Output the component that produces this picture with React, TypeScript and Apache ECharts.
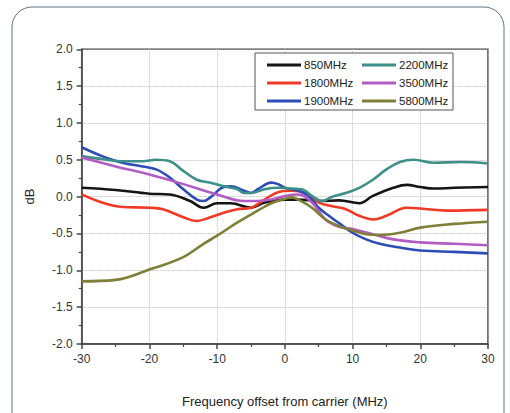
import React, { useEffect, useRef } from "react";
import * as echarts from "echarts";

const seriesNames = ["850MHz", "1800MHz", "1900MHz", "2200MHz", "3500MHz", "5800MHz"];
const seriesColors = ["#151515", "#f03a26", "#2c4db5", "#3d8f87", "#b25cc4", "#7f7f38"];

const x850 = [-30, -25, -20, -17, -14, -12, -10, -8, -5, -3, 0, 2, 5, 8, 11, 13, 16, 18, 20, 22, 25, 30];
const y850 = [0.12, 0.09, 0.04, 0.03, -0.06, -0.15, -0.09, -0.09, -0.15, -0.08, -0.04, -0.04, -0.06, -0.05, -0.09, 0.01, 0.12, 0.16, 0.13, 0.11, 0.12, 0.13];

const x1800 = [-30, -27, -24, -20, -18, -15, -13, -11, -9, -7, -5, -3, -1, 1, 3, 5, 7, 9, 11, 13, 15, 18, 20, 24, 30];
const y1800 = [0.03, -0.08, -0.14, -0.15, -0.17, -0.28, -0.33, -0.28, -0.22, -0.17, -0.15, -0.04, 0.06, 0.08, 0.05, -0.08, -0.13, -0.17, -0.26, -0.31, -0.26, -0.15, -0.16, -0.19, -0.18];

const x1900 = [-30, -27, -24, -21, -19, -17, -15, -13, -12, -11, -9, -8, -6, -5, -4, -2, -1, 0, 2, 3.5, 5, 6.5, 8, 10, 12, 14, 17, 20, 25, 30];
const y1900 = [0.67, 0.55, 0.46, 0.41, 0.37, 0.26, 0.1, -0.04, -0.06, -0.01, 0.13, 0.14, 0.08, 0.05, 0.1, 0.19, 0.17, 0.12, 0.08, 0.01, -0.15, -0.26, -0.36, -0.49, -0.58, -0.64, -0.69, -0.73, -0.75, -0.77];

const x2200 = [-30, -27, -24, -21, -19, -17, -15, -13, -11, -9, -7, -6, -5, -3, -1, 1, 2.5, 4, 5.5, 7, 9, 11, 13, 15, 17, 19, 22, 26, 30];
const y2200 = [0.55, 0.51, 0.48, 0.48, 0.5, 0.48, 0.35, 0.23, 0.19, 0.14, 0.1, 0.05, 0.05, 0.1, 0.12, 0.11, 0.1, 0.01, -0.06, 0.0, 0.05, 0.12, 0.23, 0.37, 0.47, 0.5, 0.46, 0.47, 0.45];

const x3500 = [-30, -25, -20, -15, -10, -6, -4, -2, 0, 2, 4, 6, 8, 10, 13, 16, 20, 25, 30];
const y3500 = [0.53, 0.41, 0.3, 0.17, 0.03, -0.06, -0.06, -0.04, 0.01, 0.03, -0.08, -0.31, -0.41, -0.44, -0.51, -0.58, -0.62, -0.64, -0.66];

const x5800 = [-30, -25, -20, -15, -12, -10, -7, -4, -2, 0, 1, 2, 4, 6, 8, 10, 12, 14, 17, 20, 25, 30];
const y5800 = [-1.15, -1.13, -0.99, -0.82, -0.64, -0.53, -0.35, -0.19, -0.09, -0.03, -0.01, -0.04, -0.15, -0.31, -0.4, -0.46, -0.51, -0.52, -0.49, -0.42, -0.37, -0.34];

const seriesX = [x850, x1800, x1900, x2200, x3500, x5800];
const seriesY = [y850, y1800, y1900, y2200, y3500, y5800];

const xTitle = "Frequency offset from carrier (MHz)";
const yTitle = "dB";

export default function App() {
  const ref = useRef<HTMLDivElement>(null);
  useEffect(() => {
    if (!ref.current) return;
    const chart = echarts.init(ref.current, null, { renderer: "svg" });
    const font = "Liberation Sans, Arial, sans-serif";
    const series = seriesNames.map((name, i) => ({
      name,
      type: "line",
      data: seriesX[i].map((x, j) => [x, seriesY[i][j]]),
      smooth: 0.4,
      showSymbol: false,
      lineStyle: { color: seriesColors[i], width: 2.6 },
      itemStyle: { color: seriesColors[i] },
      z: 3,
    }));
    const legendBase = {
      orient: "vertical",
      top: 58,
      icon: "rect",
      itemWidth: 34,
      itemHeight: 3,
      itemGap: 4,
      padding: 0,
      z: 10,
      textStyle: { fontFamily: font, fontSize: 11.5, color: "#222", lineHeight: 14, padding: [0, 0, 0, -2] },
    };
    const axisCommon = {
      axisLine: { onZero: false, lineStyle: { color: "#444", width: 1.5 } },
      axisTick: { show: true, inside: false, length: 5, lineStyle: { color: "#444", width: 1.5 } },
      minorTick: { show: true, splitNumber: 2, length: 3, lineStyle: { color: "#444", width: 1.2 } },
      splitLine: { show: true, lineStyle: { color: "#bdbdbd", type: "dotted", width: 1 } },
      nameLocation: "middle",
      nameTextStyle: { fontFamily: font, fontSize: 13, color: "#222" },
    };
    chart.setOption({
      animation: false,
      backgroundColor: "#ffffff",
      grid: {
        left: 81.7,
        right: 22,
        top: 49.3,
        bottom: 67.7,
        show: true,
        borderColor: "#444",
        borderWidth: 1.5,
        backgroundColor: "transparent",
      },
      legend: [
        { ...legendBase, left: 267, data: ["850MHz", "1800MHz", "1900MHz"] },
        { ...legendBase, left: 362, data: ["2200MHz", "3500MHz", "5800MHz"] },
      ],
      graphic: [
        {
          type: "rect",
          shape: { x: 12, y: 7, width: 492, height: 440, r: 20 },
          style: { fill: "none", stroke: "#5f7482", lineWidth: 1 },
          silent: true,
          z: 0,
        },
        {
          type: "rect",
          shape: { x: 255, y: 53, width: 198, height: 57 },
          style: { fill: "#fff", stroke: "#555", lineWidth: 1 },
          silent: true,
          z: 4,
        },
      ],
      xAxis: {
        ...axisCommon,
        type: "value",
        min: -30,
        max: 30,
        interval: 10,
        name: xTitle,
        nameGap: 51,
        axisLabel: { fontFamily: font, fontSize: 12, color: "#333", margin: 9 },
      },
      yAxis: {
        ...axisCommon,
        type: "value",
        min: -2,
        max: 2,
        interval: 0.5,
        name: yTitle,
        nameGap: 46,
        axisLabel: {
          fontFamily: font,
          fontSize: 12,
          color: "#333",
          margin: 9,
          formatter: (v: number) => v.toFixed(1),
        },
      },
      series,
    });
    return () => chart.dispose();
  }, []);
  return (
    <div
      ref={ref}
      style={{ position: "fixed", left: 0, top: 0, width: 510, height: 413 }}
    />
  );
}
